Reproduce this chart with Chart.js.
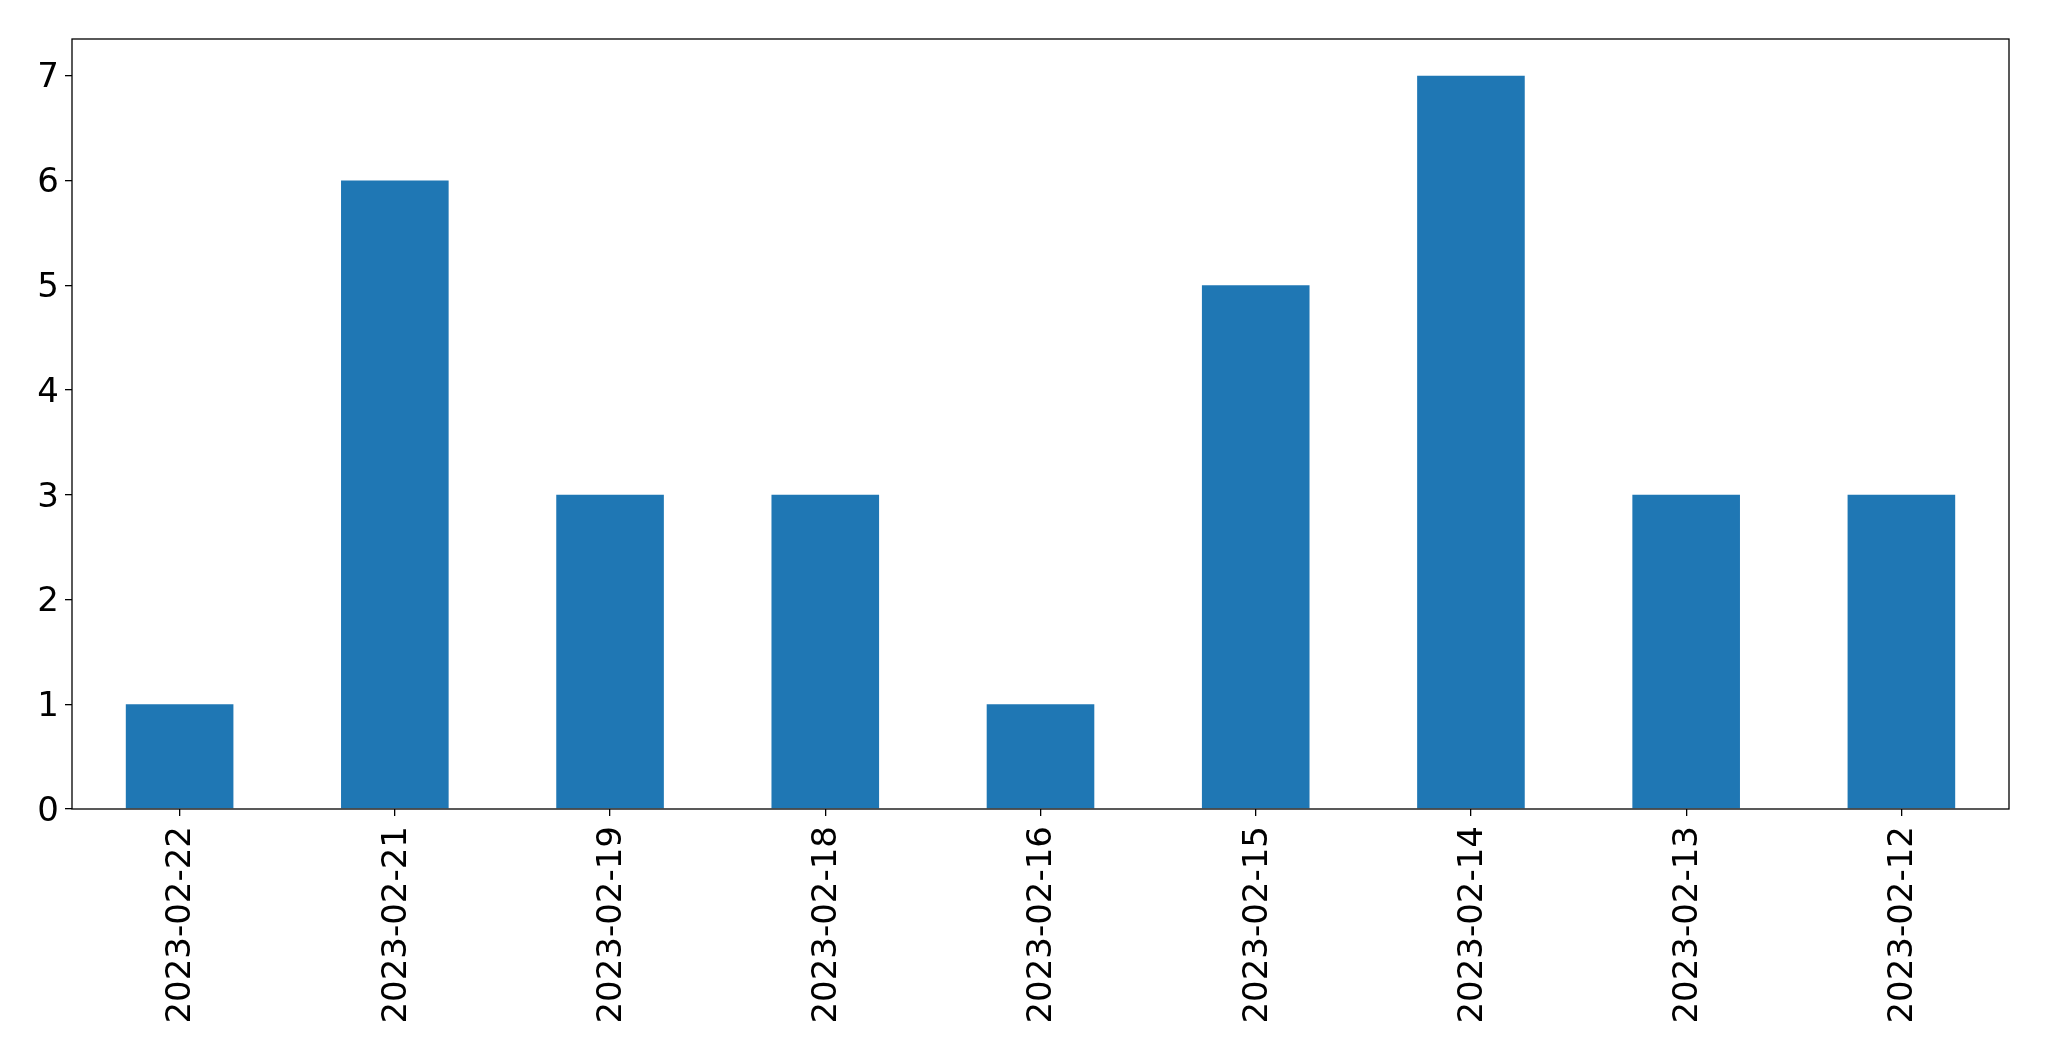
<!DOCTYPE html>
<html>
<head>
<meta charset="utf-8">
<script src="https://cdn.jsdelivr.net/npm/chart.js@4.4.0/dist/chart.umd.min.js"></script>
<style>
  html, body { margin: 0; padding: 0; background: #fff; }
  canvas { display: block; }
</style>
</head>
<body>
<canvas id="barChart" width="2049" height="1061"></canvas>
<script>
// values
const dates = ['2023-02-22', '2023-02-21', '2023-02-19', '2023-02-18', '2023-02-16', '2023-02-15', '2023-02-14', '2023-02-13', '2023-02-12'];
const counts = [1, 6, 3, 3, 1, 5, 7, 3, 3];
const yTicks = [0, 1, 2, 3, 4, 5, 6, 7];

Chart.defaults.font.family = "'DejaVu Sans', sans-serif";
Chart.defaults.color = '#000';

// frame around the plot, like matplotlib spines
const framePlugin = {
    id: 'frame',
    afterDraw(chart) {
        const a = chart.chartArea;
        const ctx = chart.ctx;
        ctx.save();
        ctx.strokeStyle = '#000';
        ctx.lineWidth = 1.3;
        ctx.strokeRect(a.left, a.top, a.right - a.left, a.bottom - a.top);
        ctx.restore();
    }
};

new Chart(document.getElementById('barChart'), {
    type: 'bar',
    data: {
        labels: dates,
        datasets: [{ data: counts, backgroundColor: '#1f77b4', barPercentage: 0.5, categoryPercentage: 1 }]
    },
    options: {
        responsive: false,
        animation: false,
        layout: { padding: { top: 39, right: 40, left: 0, bottom: 0 } },
        plugins: { legend: { display: false }, tooltip: { enabled: false } },
        scales: {
            x: {
                offset: true,
                border: { display: false },
                grid: { display: true, offset: false, drawOnChartArea: false, drawTicks: true, tickLength: 7, color: '#000', lineWidth: 1.3 },
                ticks: { font: { size: 34 }, minRotation: 90, maxRotation: 90, padding: 10, autoSkip: false, labelOffset: 2 },
                afterFit(scale) { scale.height = 252; }
            },
            y: {
                min: 0,
                max: 7.35,
                border: { display: false },
                grid: { display: true, drawOnChartArea: false, drawTicks: true, tickLength: 7, color: '#000', lineWidth: 1.3 },
                ticks: { font: { size: 34 }, stepSize: 1, includeBounds: false, padding: 6, labelOffset: 3 },
                afterBuildTicks(scale) { scale.ticks = yTicks.map(v => ({ value: v })); },
                afterFit(scale) { scale.width = 72; }
            }
        }
    },
    plugins: [framePlugin]
});
</script>
</body>
</html>
